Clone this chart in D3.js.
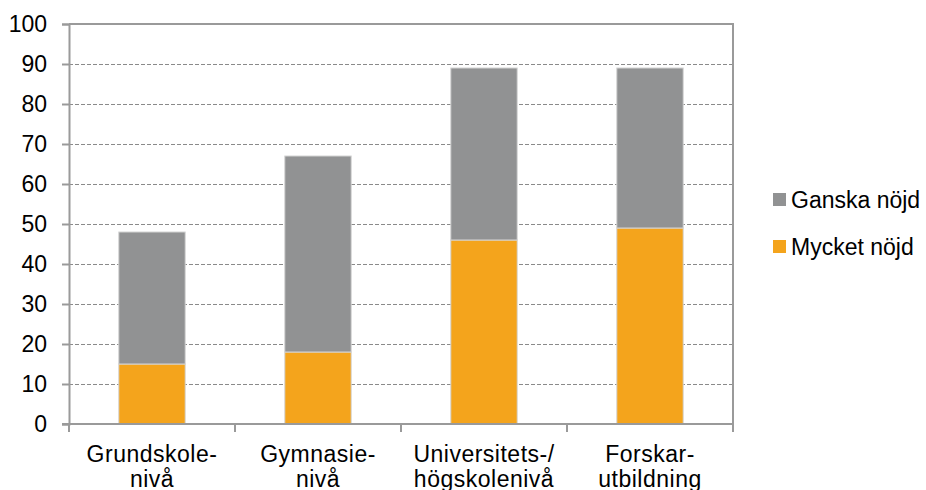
<!DOCTYPE html>
<html><head><meta charset="utf-8">
<script src="https://cdn.jsdelivr.net/npm/d3@7"></script>
<style>body{margin:0;background:#fff}svg{display:block;font-family:"Liberation Sans",Arial,sans-serif}</style>
</head><body><svg id="c" width="926" height="490"></svg>
<script>
const categories = [["Grundskole-","nivå"],["Gymnasie-","nivå"],["Universitets-/","högskolenivå"],["Forskar-","utbildning"]];
const mycketNojd = [15, 18, 46, 49];
const ganskaNojd = [33, 49, 43, 40];
const seriesNames = ["Mycket nöjd","Ganska nöjd"];
const colors = ["#F4A41C","#919293"];
const yTicks = [0,10,20,30,40,50,60,70,80,90,100];

const svg = d3.select("#c");
const L=69, R=733, T=24, B=424;
const x = d3.scaleBand().domain(d3.range(categories.length)).range([L,R]).paddingInner(0.6).paddingOuter(0.3);
const xb = d3.scaleBand().domain(d3.range(categories.length)).range([L,R]);
const y = d3.scaleLinear().domain([0,100]).range([B,T]);

// gridlines
svg.append("g").selectAll("line").data(yTicks.filter(d=>d>0&&d<100)).join("line")
  .attr("x1",L).attr("x2",R).attr("y1",d=>y(d)+0.5).attr("y2",d=>y(d)+0.5)
  .attr("stroke","#8a8a8a").attr("stroke-width",1).attr("stroke-dasharray","4,2");
// border top/right
svg.append("path").attr("d",`M${L},${T}H${R}V${B}`).attr("fill","none").attr("stroke","#9a9a9a").attr("stroke-width",2);

const data = categories.map((c,i)=>({i, m:mycketNojd[i], g:ganskaNojd[i]}));
const stack = d3.stack().keys(["m","g"])(data);
svg.append("g").selectAll("g").data(stack).join("g").attr("fill",(d,k)=>colors[k])
  .selectAll("rect").data(d=>d).join("rect")
  .attr("x",d=>x(d.data.i)).attr("width",x.bandwidth())
  .attr("y",d=>y(d[1])).attr("height",d=>y(d[0])-y(d[1]))
  .attr("stroke","#d4d4d4").attr("stroke-width",1);

// y axis
const ya = d3.axisLeft(y).tickValues(yTicks).tickSize(7).tickPadding(15);
const gy = svg.append("g").attr("transform",`translate(${L},0)`).call(ya);
gy.select(".domain").attr("stroke","#9a9a9a").attr("stroke-width",2);
gy.selectAll(".tick line").attr("stroke","#9a9a9a").attr("stroke-width",2);
gy.selectAll(".tick text").attr("font-size",23).attr("fill","#000").attr("font-family","Liberation Sans, Arial, sans-serif");

// x axis
svg.append("line").attr("x1",L-7).attr("x2",R).attr("y1",B).attr("y2",B).attr("stroke","#9a9a9a").attr("stroke-width",2);
svg.append("g").selectAll("line").data(d3.range(categories.length+1)).join("line")
  .attr("x1",d=>d<categories.length?xb(d):R).attr("x2",d=>d<categories.length?xb(d):R)
  .attr("y1",B).attr("y2",B+8).attr("stroke","#9a9a9a").attr("stroke-width",2);
const lab = svg.append("g").selectAll("text").data(categories).join("text")
  .attr("x",(d,i)=>xb(i)+xb.bandwidth()/2).attr("y",461.5).attr("text-anchor","middle")
  .attr("font-size",23).attr("letter-spacing","0.5px").attr("fill","#000");
lab.selectAll("tspan").data(d=>d).join("tspan").attr("x",function(){return this.parentNode.getAttribute("x");})
  .attr("dy",(d,j)=>j?25.5:0).text(d=>d);

// legend (reverse order)
const leg = [{n:seriesNames[1],c:colors[1],y:200},{n:seriesNames[0],c:colors[0],y:247}];
const lg = svg.append("g").selectAll("g").data(leg).join("g");
lg.append("rect").attr("x",773).attr("y",d=>d.y-7).attr("width",13).attr("height",13).attr("fill",d=>d.c);
lg.append("text").attr("x",791).attr("y",d=>d.y+8).attr("font-size",23).attr("fill","#000").text(d=>d.n);
</script></body></html>
